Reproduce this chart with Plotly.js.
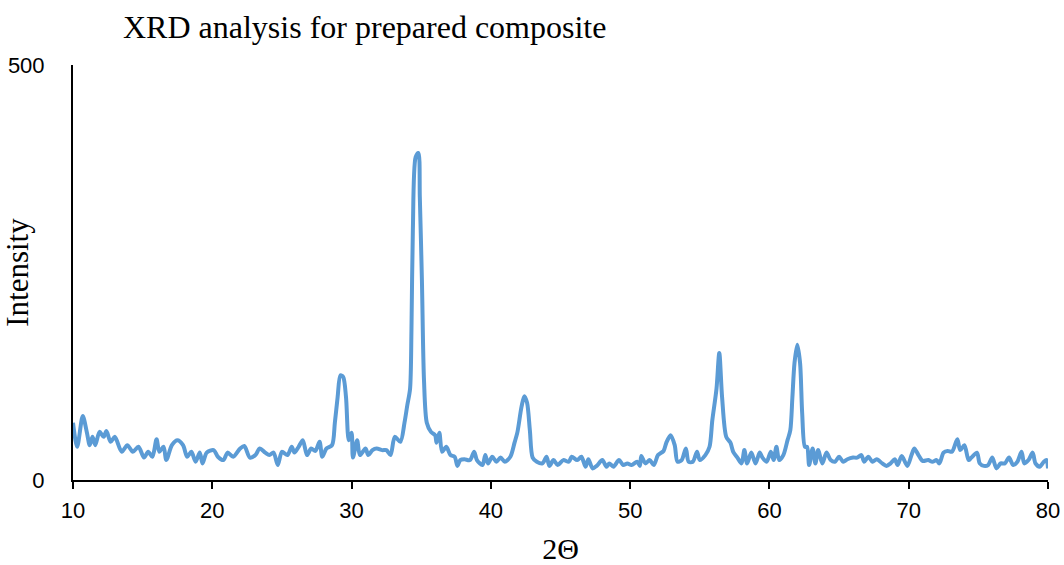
<!DOCTYPE html>
<html>
<head>
<meta charset="utf-8">
<script src="https://cdn.plot.ly/plotly-3.0.1.min.js"></script>
<style>html,body{margin:0;padding:0;background:#fff;}#chart{width:1064px;height:565px;}</style>
</head>
<body>
<div id="chart"></div>
<script>
var twoTheta = [
10.0,10.3,10.7,11.0,11.2,11.4,11.6,11.9,12.2,12.4,12.7,13.0,13.5,13.9,14.3,14.7,15.1,15.4,15.7,16.0,
16.2,16.5,16.7,17.1,17.5,17.9,18.2,18.5,18.8,19.1,19.3,19.6,20.1,20.4,20.8,21.1,21.5,22.0,22.3,22.7,
23.1,23.4,23.8,24.1,24.4,24.7,25.0,25.4,25.7,25.9,26.2,26.5,26.8,27.1,27.4,27.7,27.9,28.2,28.6,28.8,
29.0,29.2,29.4,29.6,29.8,30.0,30.1,30.4,30.6,31.0,31.2,31.5,31.8,32.2,32.5,32.8,33.1,33.5,33.8,34.0,
34.2,34.3,34.4,34.6,34.8,34.9,35.05,35.2,35.4,35.7,36.0,36.1,36.3,36.5,36.8,37.1,37.4,37.6,37.8,38.1,
38.5,38.8,39.0,39.4,39.6,39.8,40.1,40.4,40.7,41.0,41.4,41.7,41.9,42.2,42.4,42.6,42.8,43.0,43.3,43.7,
44.0,44.2,44.5,44.8,45.2,45.6,45.8,46.2,46.5,46.8,47.0,47.3,47.6,48.0,48.3,48.5,48.8,49.2,49.5,49.8,
50.1,50.5,50.7,50.8,51.1,51.4,51.7,52.0,52.4,52.6,52.9,53.2,53.4,53.7,54.0,54.2,54.5,54.8,55.0,55.4,
55.7,55.9,56.2,56.4,56.6,56.9,57.2,57.4,57.7,58.0,58.2,58.4,58.7,59.0,59.3,59.5,59.8,60.1,60.3,60.5,
60.7,61.0,61.3,61.5,61.65,61.8,62.0,62.2,62.35,62.55,62.7,62.85,63.1,63.3,63.5,63.8,64.1,64.4,64.7,65.0,
65.3,65.6,66.0,66.3,66.6,66.8,67.1,67.4,67.7,68.1,68.4,68.7,69.0,69.2,69.5,69.9,70.2,70.4,70.7,71.0,
71.4,71.7,72.0,72.2,72.5,72.8,73.1,73.4,73.5,73.7,74.0,74.3,74.5,74.9,75.1,75.4,75.7,76.0,76.3,76.6,
76.9,77.2,77.5,77.8,78.1,78.3,78.6,78.9,79.1,79.4,79.7,79.9,80.0
];
var intensity = [
69,40,77,57,42,52,42,58,52,59,46,52,34,42,34,40,27,34,28,49,
34,40,24,42,48,42,28,34,22,33,20,33,36,28,24,33,28,38,41,27,
30,38,33,30,33,18,34,30,40,33,40,48,30,38,35,46,28,38,42,69,
100,126,124,100,48,57,27,48,30,38,30,36,38,36,36,30,52,46,69,90,
110,181,301,389,394,341,241,120,69,58,54,45,57,34,40,30,28,17,24,25,
24,34,24,18,30,20,28,22,27,22,28,45,57,88,101,93,60,27,22,20,
28,17,24,18,24,22,28,24,28,16,25,14,17,24,16,20,16,24,18,20,
18,22,17,29,20,24,18,30,35,45,54,42,22,24,38,22,22,34,24,30,
40,72,110,153,100,52,45,34,27,20,36,20,33,20,33,27,22,34,24,40,
24,30,48,60,100,141,163,141,81,40,40,18,38,20,36,20,33,24,22,28,
22,25,27,27,30,22,28,22,25,20,17,20,25,18,29,17,30,38,30,23,
24,22,24,20,33,35,34,46,49,36,42,24,27,33,20,17,18,27,14,20,
20,27,18,22,34,20,24,33,20,16,22,24,14
];
var xTicks = [10,20,30,40,50,60,70,80];
var yTicks = [0,500];

var trace = {
  x: twoTheta, y: intensity, type: 'scatter', mode: 'lines',
  line: {color: '#5B9BD5', width: 4, shape: 'spline', smoothing: 0.8},
  hoverinfo: 'x+y'
};
var tickFont = {family: '"Liberation Sans Narrow", "Liberation Sans", sans-serif', size: 22, color: '#000'};
var serif = '"Liberation Serif", "Times New Roman", "DejaVu Serif", serif';
var layout = {
  width: 1064, height: 565,
  margin: {l: 73, r: 16, t: 65, b: 85},
  paper_bgcolor: '#fff', plot_bgcolor: '#fff',
  showlegend: false,
  title: {text: 'XRD analysis for prepared composite', font: {family: serif, size: 32, color: '#000'},
          x: 123/1064, xanchor: 'left', y: 1 - 27/565, yanchor: 'middle'},
  xaxis: {
    range: [10, 80], tickvals: xTicks, ticktext: xTicks.map(String),
    showgrid: false, zeroline: false, showline: true, linecolor: '#000', linewidth: 2,
    ticks: 'outside', ticklen: 7, tickwidth: 2, tickcolor: '#000',
    tickfont: tickFont, ticklabelstandoff: 3,
    title: {text: '2Θ', font: {family: serif, size: 30, color: '#000'}, standoff: 18}
  },
  yaxis: {
    range: [0, 500], tickvals: yTicks, ticktext: yTicks.map(String),
    showgrid: false, zeroline: false, showline: true, linecolor: '#000', linewidth: 2,
    ticks: '', tickfont: tickFont, ticklabelstandoff: 22,
    title: {text: 'Intensity', font: {family: serif, size: 31, color: '#000'}, standoff: 2}
  }
};
Plotly.newPlot('chart', [trace], layout, {displayModeBar: false, staticPlot: true});
</script>
</body>
</html>
